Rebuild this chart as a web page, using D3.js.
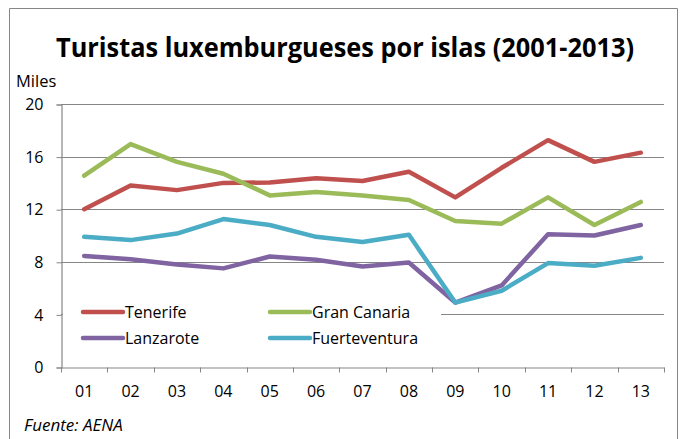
<!DOCTYPE html>
<html>
<head>
<meta charset="utf-8">
<script src="https://cdn.jsdelivr.net/npm/d3@7/dist/d3.min.js"></script>
<style>
  body { margin: 0; background: #fff; }
  text { font-family: "Open Sans", "Noto Sans", sans-serif; fill: #000; }
</style>
</head>
<body>
<script>
const years = ["01", "02", "03", "04", "05", "06", "07", "08", "09", "10", "11", "12", "13"];
const tenerife = [12.0, 13.8, 13.45, 14.0, 14.03, 14.35, 14.15, 14.85, 12.9, 15.15, 17.25, 15.6, 16.3];
const granCanaria = [14.55, 16.95, 15.6, 14.7, 13.05, 13.3, 13.05, 12.7, 11.1, 10.9, 12.9, 10.8, 12.55];
const lanzarote = [8.45, 8.2, 7.8, 7.5, 8.4, 8.15, 7.65, 7.95, 4.9, 6.2, 10.1, 10.0, 10.8];
const fuerteventura = [9.9, 9.65, 10.15, 11.25, 10.8, 9.9, 9.5, 10.05, 4.9, 5.8, 7.9, 7.7, 8.3];
const yTicks = [0, 4, 8, 12, 16, 20];

const seriesNames = ["Tenerife", "Gran Canaria", "Lanzarote", "Fuerteventura"];
const seriesValues = [tenerife, granCanaria, lanzarote, fuerteventura];
const seriesColors = ["#C0504D", "#9BBB59", "#8064A2", "#4BACC6"];

const w = 682, h = 439;
const plotLeft = 61, plotRight = 664, plotTop = 104, plotBottom = 367;
const fontSize = "16px";

const svg = d3.select("body").append("svg")
    .attr("width", w)
    .attr("height", h);

// outer chart border (no bottom edge visible)
svg.append("path")
    .attr("d", `M9.5,${h} V8.5 H677.5 V${h}`)
    .attr("fill", "none")
    .attr("stroke", "#868686")
    .attr("stroke-width", 1);

const x = d3.scaleBand().domain(years).range([plotLeft, plotRight]);
const y = d3.scaleLinear().domain([0, 20]).range([plotBottom, plotTop]);

// gridlines
svg.append("g")
    .selectAll("line")
    .data(yTicks.filter(d => d > 0))
    .enter().append("line")
    .attr("x1", plotLeft).attr("x2", plotRight)
    .attr("y1", d => Math.round(y(d)) + 0.5)
    .attr("y2", d => Math.round(y(d)) + 0.5)
    .attr("stroke", "#868686")
    .attr("stroke-width", 1.2);

// y axis
const yAxis = svg.append("g")
    .attr("transform", `translate(${plotLeft + 0.5},0.5)`)
    .call(d3.axisLeft(y).tickValues(yTicks).tickSize(5).tickPadding(13));

// x axis with ticks at band edges
const xAxis = svg.append("g")
    .attr("transform", `translate(0,${Math.round(y(0)) + 0.5})`)
    .call(d3.axisBottom(x).tickSize(0).tickPadding(18));

xAxis.selectAll(".edge")
    .data(d3.range(years.length + 1))
    .enter().append("line")
    .attr("class", "edge")
    .attr("x1", i => Math.round(plotLeft + i * x.step()) + 0.5)
    .attr("x2", i => Math.round(plotLeft + i * x.step()) + 0.5)
    .attr("y1", 0).attr("y2", 5)
    .attr("stroke", "#868686");

[yAxis, xAxis].forEach(g => {
    g.select(".domain").attr("stroke", "#868686").attr("stroke-width", 1.2);
    g.selectAll(".tick line").attr("stroke", "#868686");
    g.selectAll("text")
        .style("font-family", "'Open Sans', 'Noto Sans', sans-serif")
        .style("font-size", fontSize)
        .attr("fill", "#000");
});

// legend background (hides the gridline behind it)
svg.append("rect")
    .attr("x", plotLeft + 2).attr("y", 300)
    .attr("width", 378).attr("height", 50)
    .attr("fill", "#fff");

// lines
const line = d3.line()
    .x((d, i) => x(years[i]) + x.bandwidth() / 2)
    .y(d => y(d));

svg.append("g")
    .selectAll("path")
    .data(seriesValues)
    .enter().append("path")
    .attr("d", line)
    .attr("fill", "none")
    .attr("stroke", (d, i) => seriesColors[i])
    .attr("stroke-width", 4.5)
    .attr("stroke-linejoin", "round")
    .attr("stroke-linecap", "round");

// legend
const legend = svg.append("g")
    .selectAll("g")
    .data(seriesNames)
    .enter().append("g")
    .attr("transform", (d, i) => `translate(${83 + (i % 2) * 187},${312 + Math.floor(i / 2) * 26})`);

legend.append("line")
    .attr("x1", 0).attr("x2", 40)
    .attr("stroke", (d, i) => seriesColors[i])
    .attr("stroke-width", 4.5)
    .attr("stroke-linecap", "round");

legend.append("text")
    .attr("x", 42)
    .attr("dy", "0.35em")
    .style("font-size", fontSize)
    .text(d => d);

// title
svg.append("text")
    .attr("x", 345)
    .attr("y", 57)
    .attr("text-anchor", "middle")
    .attr("textLength", 578)
    .attr("lengthAdjust", "spacingAndGlyphs")
    .style("font-size", "26px")
    .style("font-weight", "bold")
    .text("Turistas luxemburgueses por islas (2001-2013)");

svg.append("text")
    .attr("x", 16)
    .attr("y", 87)
    .style("font-size", "16.5px")
    .text("Miles");

svg.append("text")
    .attr("x", 24)
    .attr("y", 431)
    .style("font-size", "17px")
    .style("font-style", "italic")
    .text("Fuente: AENA");
</script>
</body>
</html>
